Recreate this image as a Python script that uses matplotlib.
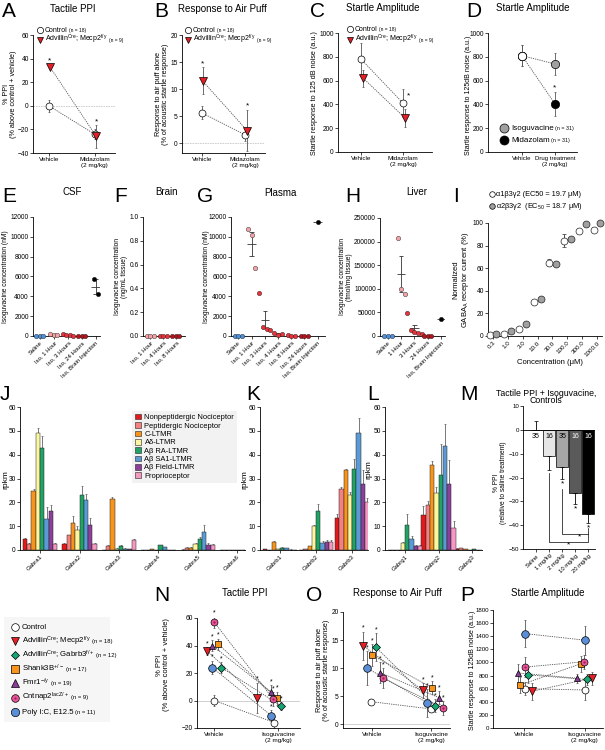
import numpy as np
import matplotlib
matplotlib.use('Agg')
import matplotlib.pyplot as plt
from matplotlib.patches import Patch, Rectangle
from matplotlib.lines import Line2D

plt.rcParams['font.family'] = ['Liberation Sans', 'DejaVu Sans']
plt.rcParams['mathtext.default'] = 'regular'

# ---------------- data ----------------
dose_labels = ['Vehicle', 'Midazolam\n(2 mg/kg)']
# A tactile PPI
ppi_ctrl = [0, -24]
ppi_ctrl_err = [5, 4]
ppi_mecp2 = [33, -26]
ppi_mecp2_err = [2, 10]
# B response to air puff
puff_ctrl = [5.6, 1.5]
puff_ctrl_err = [1.2, 1.2]
puff_mecp2 = [11.5, 2.3]
puff_mecp2_err = [2.5, 3.8]
# C startle amplitude
startle_ctrl = [780, 410]
startle_ctrl_err = [140, 120]
startle_mecp2 = [620, 285]
startle_mecp2_err = [70, 75]
# D
d_labels = ['Vehicle', 'Drug treatment\n(2 mg/kg)']
d_vehicle = 810
d_vehicle_err = 85
d_iso = 740
d_iso_err = 90
d_mid = 405
d_mid_err = 100

# E-H isoguvacine concentrations
csf_labels = ['Saline', 'Iso, 1 Hour', 'Iso, 3 Hours', 'Iso, 24 Hours', 'Iso, Brain Injection']
csf_vals = [[0, 0, 0], [210, 150, 90], [160, 110, 60, 20], [0, 0, 0], [5700, 4200]]
brain_labels = ['Iso, 1 Hour', 'Iso, 4 Hours', 'Iso, 8 Hours']
brain_vals = [[0, 0, 0], [0, 0, 0], [0, 0, 0]]
plasma_labels = ['Saline', 'Iso, 1 Hour', 'Iso, 3 Hours', 'Iso, 4 Hours',
                 'Iso, 8 Hours', 'Iso, 24 Hours', 'Iso, Brain Injection']
plasma_vals = [[0, 0, 0], [10800, 10200, 6900], [4300, 950, 750, 650],
               [300, 150, 220], [120, 40, 0], [0, 0, 0], [11500]]
liver_labels = ['Saline', '1 Hour', '3 Hours', '24 Hours', 'Iso, Brain Injection']
liver_vals = [[0, 0, 0], [207000, 100000, 88000], [48000, 12000, 9000, 7000, 5000],
              [0, 0, 0], [36000]]

# I dose response
conc_labels = ['0.3', '1.0', '3.0', '10.0', '30.0', '100.0', '300.0', '1000.0']
a1_vals = [1, 2, 6.5, 30.5, 65, 84.5, 92.5, 93.5]
a1_err = [0.5, 0.5, 0.8, 1, 3, 6, 1, 1.5]
a2_vals = [1.5, 4.5, 10.5, 33, 63.5, 86, 99, 100]
a2_err = [0.5, 0.5, 1, 1, 1.5, 1.5, 1, 1]

# J-L rpkm
cell_types = ['Nonpeptidergic Nociceptor', 'Peptidergic Nociceptor', 'C-LTMR', 'A\u03b4-LTMR',
              'A\u03b2 RA-LTMR', 'A\u03b2 SA1-LTMR', 'A\u03b2 Field-LTMR', 'Proprioceptor']
gabra_genes = ['Gabra1', 'Gabra2', 'Gabra3', 'Gabra4', 'Gabra5', 'Gabra6']
gabra_vals = [[4.7, 2.5, 24.8, 49, 43, 13, 16.5, 2.5],
              [2.5, 6.2, 11.5, 8.2, 23, 21, 10.5, 2.5],
              [0.1, 1.8, 21.3, 0.5, 1.5, 0.5, 0.3, 4.0],
              [0, 0, 0.3, 0, 2, 1.2, 0.1, 0],
              [0.2, 1, 1, 2.5, 4.5, 7.5, 2.3, 2.2],
              [0, 0, 0, 0, 0, 0, 0, 0]]
gabra_err = [[0.5, 0.5, 1, 2, 5, 5, 2.5, 0.5],
             [0.5, 0.3, 2.8, 1.8, 4, 2.5, 3, 0.5],
             [0, 0.3, 1, 0.2, 0.5, 0.2, 0.1, 0.5],
             [0, 0, 0, 0, 0.3, 0.2, 0, 0],
             [0.1, 0.2, 0.2, 0.5, 1, 3, 0.5, 0.5],
             [0, 0, 0, 0, 0, 0, 0, 0]]
gabrb_genes = ['Gabrb1', 'Gabrb2', 'Gabrb3']
gabrb_vals = [[0.3, 0, 3.3, 0.5, 1, 0.8, 0.2, 0],
              [0.2, 0.5, 1.5, 10, 16.5, 3, 3.2, 3.5],
              [13.5, 25.5, 33.5, 23, 34, 49, 27.5, 20]]
gabrb_err = [[0.1, 0, 0.4, 0.1, 0.2, 0.2, 0.1, 0],
             [0, 0.1, 0.3, 0.5, 2.8, 0.8, 1, 0.5],
             [1.5, 1, 0.3, 1.5, 4, 6.5, 6, 2]]
gabrg_genes = ['Gabrg1', 'Gabrg2', 'Gabrg3']
gabrg_vals = [[0.2, 0.2, 0, 2.8, 10.5, 4.5, 1.5, 1.5],
              [14.8, 19, 35.5, 24, 31.5, 43.8, 27.6, 9.3],
              [0.5, 0.8, 0.5, 0.2, 0.3, 0.2, 0.1, 0.1]]
gabrg_err = [[0, 0, 0, 0.5, 4.5, 1.2, 0.5, 0.5],
             [3.5, 1.5, 2, 2.5, 13, 9, 10, 3],
             [0.2, 0.2, 0.1, 0, 0, 0, 0, 0]]

# M
m_labels = ['Saline', '1 mg/kg', '2 mg/kg', '10 mg/kg', '20 mg/kg']
m_vals = [0, -11, -15.5, -26.5, -35.2]
m_err = [3.8, 6, 5, 4.5, 3.7]
m_n = [35, 16, 35, 16, 16]

# N-P
model_names = ['Control', 'Advillin$^{Cre}$; Mecp2$^{f/y}$', 'Advillin$^{Cre}$; Gabrb3$^{f/+}$',
               'Shank3B$^{+/-}$', 'Fmr1$^{-/y}$', 'Cntnap2$^{lacZ/+}$', 'Poly I:C, E12.5']
model_n = ['', '(n = 18)', '(n = 12)', '(n = 17)', '(n = 19)', '(n = 9)', '(n = 11)']
iso_labels = ['Vehicle', 'Isoguvacine\n(2 mg/kg)']
n_veh = [0, 36, 24, 41, 40, 57, 24]
n_veh_err = [4, 3, 4, 4, 4, 4, 5]
n_iso = [-16, 2, -4, 1.5, 6, 1, -11]
n_iso_err = [4, 11, 3, 5, 5, 5, 4]
o_veh = [4, 14, 13.7, 12.3, 9.2, 8.2, 10]
o_veh_err = [0.5, 2.5, 2.5, 2, 1.8, 1.8, 3]
o_iso = [2.7, 6, 3.3, 6.5, 4.7, 2.9, 3.8]
o_iso_err = [0.5, 1.3, 1.2, 1.2, 1.2, 1.2, 2.5]
p_veh = [600, 560, 810, 655, 840, 930, 1440]
p_veh_err = [100, 130, 120, 120, 140, 150, 200]
p_iso = [580, 760, 740, 980, 760, 1010, 1340]
p_iso_err = [150, 100, 90, 120, 70, 110, 220]

# ---------------- style ----------------
RED = '#e41f26'
GREEN = '#17a673'
ORANGE = '#f7941d'
PURPLE = '#8a3c97'
PINK = '#e8559a'
BLUE = '#5a8fd8'
LN = '#555555'
cell_colors = ['#e31a1c', '#f4807f', '#f7941d', '#fbf7a0', '#21a366', '#5b9bd5', '#8e3f9a', '#f49ac1']
model_colors = ['white', RED, GREEN, ORANGE, PURPLE, PINK, BLUE]
model_markers = ['o', 'v', 'D', 's', '^', 'o', 'o']
model_ms = [5, 5.5, 3.8, 5, 5, 5, 5.5]
C_SAL, C_1H, C_3H, C_24H = '#4f8fd6', '#f2a1a6', '#e5323b', '#b3141c'

W, H = 605, 750
fig = plt.figure(figsize=(W / 100, H / 100), dpi=100)
renderer = fig.canvas.get_renderer()


def pax(l, t, r, b, xlim, ylim):
    ax = fig.add_axes([l / W, 1 - b / H, (r - l) / W, (b - t) / H])
    ax.set_xlim(*xlim)
    ax.set_ylim(*ylim)
    for s in ('top', 'right'):
        ax.spines[s].set_visible(False)
    for s in ('left', 'bottom'):
        ax.spines[s].set_linewidth(0.6)
    ax.tick_params(labelsize=4.8, width=0.5, length=2, pad=1)
    ax.patch.set_visible(False)
    return ax


def ptext(x, y, s, size=5, **kw):
    kw.setdefault('ha', 'center')
    kw.setdefault('va', 'center')
    return fig.text(x / W, 1 - y / H, s, fontsize=size, **kw)


def letter(x, y, s):
    ptext(x, y, s, size=15, ha='left', va='top')


def ylab(x, y, s, size=5.2):
    ptext(x, y, s, size=size, rotation=90, linespacing=1.1)


def key(x, y, marker, fc, ms, parts, ec='black', gap=5):
    fig.add_artist(Line2D([x / W], [1 - y / H], marker=marker, ms=ms, mfc=fc, mec=ec, mew=0.5,
                          ls='none', transform=fig.transFigure))
    tx = x + gap
    for s, size in parts:
        t = fig.text(tx / W, 1 - (y + 2) / H, s, fontsize=size, ha='left', va='baseline')
        tx += t.get_window_extent(renderer).width + 1.5


def pair(ax, xs, ys, errs, marker, fc, ms, ec='black'):
    ax.plot(xs, ys, ls=(0, (1.5, 1.2)), color=LN, lw=0.6, zorder=1)
    ax.errorbar(xs, ys, yerr=errs, fmt='none', ecolor=LN, elinewidth=0.6, capsize=1, capthick=0.5, zorder=2)
    ax.plot(xs, ys, ls='none', marker=marker, ms=ms, mfc=fc, mec=ec, mew=0.5, zorder=3, clip_on=False)


def star(ax, x, y, size=6):
    ax.text(x, y, '*', ha='center', va='center', fontsize=size)


def rot_ticks(ax, labels, size=4.3):
    ax.set_xticks(range(len(labels)))
    ax.set_xticklabels(labels, rotation=45, ha='right', rotation_mode='anchor', fontsize=size)


# ---------------- A ----------------
letter(2, 2, 'A')
ptext(73, 9, 'Tactile PPI', 7)
ax = pax(33, 35, 115, 153, (-0.35, 1.45), (-40, 60))
ax.set_yticks(range(-40, 61, 20))
ax.set_xticks([0, 1])
ax.set_xticklabels(dose_labels, fontsize=4.6)
ax.axhline(0, color='#c8c8c8', lw=0.6, ls=(0, (2, 1)), zorder=0)
pair(ax, [0, 1], ppi_ctrl, ppi_ctrl_err, 'o', 'white', 5)
pair(ax, [0.02, 1.04], ppi_mecp2, ppi_mecp2_err, 'v', RED, 5.5)
star(ax, 0.02, 38)
star(ax, 1.04, -14)
ylab(10, 94, '% PPI\n(% above control + vehicle)')
key(40, 30, 'o', 'white', 4.5, [('Control', 5), ('(n = 18)', 3.5)])
key(40, 40, 'v', RED, 5, [('Advillin$^{Cre}$; Mecp2$^{f/y}$', 5), ('(n = 9)', 3.5)])

# ---------------- B ----------------
letter(154, 2, 'B')
ptext(222, 9, 'Response to Air Puff', 7)
ax = pax(182, 35, 265, 153, (-0.45, 1.45), (-1.85, 20))
ax.set_yticks(range(0, 21, 5))
ax.set_xticks([0, 1])
ax.set_xticklabels(dose_labels, fontsize=4.6)
ax.axhline(0, color='#c8c8c8', lw=0.6, ls=(0, (2, 1)), zorder=0)
pair(ax, [0, 1], puff_ctrl, puff_ctrl_err, 'o', 'white', 5)
pair(ax, [0.02, 1.04], puff_mecp2, puff_mecp2_err, 'v', RED, 5.5)
star(ax, 0.02, 14.6)
star(ax, 1.04, 6.8)
ylab(162, 94, 'Response to air puff alone\n(% of acoustic startle response)')
key(188, 30, 'o', 'white', 4.5, [('Control', 5), ('(n = 18)', 3.5)])
key(188, 40, 'v', RED, 5, [('Advillin$^{Cre}$; Mecp2$^{f/y}$', 5), ('(n = 9)', 3.5)])

# ---------------- C ----------------
letter(310, 2, 'C')
ptext(383, 8, 'Startle Amplitude', 7)
ax = pax(338, 33, 432, 152, (-0.55, 1.69), (0, 1000))
ax.set_yticks(range(0, 1001, 200))
ax.set_xticks([0, 1])
ax.set_xticklabels(dose_labels, fontsize=4.6)
pair(ax, [0, 1], startle_ctrl, startle_ctrl_err, 'o', 'white', 5)
pair(ax, [0.05, 1.05], startle_mecp2, startle_mecp2_err, 'v', RED, 5.5)
star(ax, 1.12, 470)
ylab(315, 93, 'Startle response to 125 dB noise (a.u.)')
key(350, 29, 'o', 'white', 4.5, [('Control', 5), ('(n = 18)', 3.5)])
key(350, 40, 'v', RED, 5, [('Advillin$^{Cre}$; Mecp2$^{f/y}$', 5), ('(n = 9)', 3.5)])

# ---------------- D ----------------
letter(466, 2, 'D')
ptext(533, 8, 'Startle Amplitude', 7)
ax = pax(488, 33, 577, 152, (-1.03, 1.67), (0, 1000))
ax.set_yticks(range(0, 1001, 200))
ax.set_xticks([0, 1])
ax.set_xticklabels(d_labels, fontsize=4.3)
pair(ax, [0, 1], [d_vehicle, d_iso], [d_vehicle_err, d_iso_err], 'o', '#a0a0a0', 6)
pair(ax, [0, 1], [d_vehicle, d_mid], [d_vehicle_err, d_mid_err], 'o', 'black', 6)
ax.plot([0], [d_vehicle], 'o', ms=6, mfc='white', mec='black', mew=0.5, zorder=4)
star(ax, 1, d_mid + d_mid_err + 35)
ylab(469, 95, 'Startle response to 125dB noise (a.u.)', 5.0)
key(504, 128, 'o', '#a0a0a0', 6.5, [('Isoguvacine', 5.8), ('(n = 31)', 3.8)], gap=7)
key(504, 140, 'o', 'black', 6.5, [('Midazolam', 5.8), ('(n = 31)', 3.8)], gap=7)


# ---------------- E-H ----------------
def dots(ax, groups, colors, step):
    for i, (vals, c) in enumerate(zip(groups, colors)):
        vals = np.asarray(vals, float)
        n = len(vals)
        offs = (np.arange(n) - (n - 1) / 2) * step
        m = vals.mean()
        ax.hlines(m, i - 0.32, i + 0.32, color='#333333', lw=0.6, zorder=2)
        if n > 1:
            s = vals.std(ddof=1) / np.sqrt(n)
            if s > 0:
                ax.vlines(i, m - s, m + s, color='#333333', lw=0.6, zorder=2)
                ax.hlines([m - s, m + s], i - 0.17, i + 0.17, color='#333333', lw=0.6, zorder=2)
        ax.plot(i + offs, vals, 'o', ms=3.2, mfc=c, mec='#222222', mew=0.3, zorder=3, clip_on=False)


letter(2, 187, 'E')
ptext(72, 192, 'CSF', 7)
ax = pax(33, 217, 100, 336, (-0.5, 4.3), (0, 12000))
ax.set_yticks(range(0, 12001, 2000))
rot_ticks(ax, csf_labels)
dots(ax, csf_vals, [C_SAL, C_1H, C_3H, C_24H, 'black'], 0.25)
ylab(6, 277, 'Isoguvacine concentration (nM)', 4.8)

letter(114, 187, 'F')
ptext(167, 192, 'Brain', 7)
ax = pax(143, 217, 185, 336, (-0.55, 2.7), (0, 1.0))
ax.set_yticks(np.arange(0, 1.01, 0.2))
ax.yaxis.set_major_formatter(matplotlib.ticker.FormatStrFormatter('%.1f'))
rot_ticks(ax, brain_labels)
dots(ax, brain_vals, [C_1H, C_3H, C_24H], 0.27)
ylab(121, 277, 'Isoguvacine concentration\n(ng/mL tissue)', 4.8)

letter(197, 187, 'G')
ptext(280, 193, 'Plasma', 7)
ax = pax(231, 217, 325, 336, (-0.55, 6.55), (0, 12000))
ax.set_yticks(range(0, 12001, 2000))
rot_ticks(ax, plasma_labels)
dots(ax, plasma_vals, [C_SAL, C_1H, C_3H, C_3H, C_3H, C_24H, 'black'], 0.27)
ylab(207, 277, 'Isoguvacine concentration (nM)', 4.8)

letter(345, 187, 'H')
ptext(417, 192, 'Liver', 7)
ax = pax(380, 218, 445, 336, (-0.6, 4.3), (0, 250000))
ax.set_yticks(range(0, 250001, 50000))
rot_ticks(ax, liver_labels)
dots(ax, liver_vals, [C_SAL, C_1H, C_3H, C_24H, 'black'], 0.27)
ylab(346, 277, 'Isoguvacine concentration\n(fmol/mg tissue)', 4.8)

# ---------------- I ----------------
letter(453, 187, 'I')
ax = pax(488, 223, 602, 336, (-0.34, 7.34), (0, 100))
ax.set_yticks(range(0, 101, 20))
rot_ticks(ax, conc_labels, 4.5)
xi = np.arange(len(conc_labels))
ax.errorbar(xi - 0.23, a1_vals, yerr=a1_err, fmt='none', ecolor='#333333', elinewidth=0.6, capsize=1.2, capthick=0.5)
ax.errorbar(xi + 0.23, a2_vals, yerr=a2_err, fmt='none', ecolor='#333333', elinewidth=0.6, capsize=1.2, capthick=0.5)
ax.plot(xi - 0.23, a1_vals, 'o', ms=5, mfc='white', mec='#222222', mew=0.5, clip_on=False, zorder=3)
ax.plot(xi + 0.23, a2_vals, 'o', ms=5, mfc='#a0a0a0', mec='#222222', mew=0.5, clip_on=False, zorder=3)
ylab(462, 280, 'Normalized\nGABA$_A$ receptor current (%)', 5.5)
ptext(550, 363, 'Concentration (\u03bcM)', 5.5)
key(492, 194, 'o', 'white', 4, [('\u03b11\u03b23\u03b32 (EC50 = 19.7 \u03bcM)', 5.3)], gap=4)
key(492, 206, 'o', '#a0a0a0', 4, [('\u03b12\u03b23\u03b32  (EC$_{50}$ = 18.7 \u03bcM)', 5.3)], gap=4)


# ---------------- J-L ----------------
def gene_bars(ax, vals, errs, ppu):
    vals = np.asarray(vals, float)
    errs = np.asarray(errs, float)
    w = 4.3 / ppu
    xg = np.arange(len(vals))
    for i in range(len(cell_types)):
        xs = xg + (i - 3.5) * w
        ax.bar(xs, vals[:, i], w, color=cell_colors[i], edgecolor='#222222', lw=0.35, zorder=2)
        ax.errorbar(xs, vals[:, i], yerr=[np.zeros(len(xs)), errs[:, i]], fmt='none',
                    ecolor='#444444', elinewidth=0.5, capsize=0.8, capthick=0.4, zorder=1)
    ax.set_yticks(range(0, 61, 10))


letter(0, 385, 'J')
ax = pax(20, 407, 245, 550, (-0.51, 5.2), (0, 60))
gene_bars(ax, gabra_vals, gabra_err, 39.4)
rot_ticks(ax, gabra_genes, 4.3)
ylab(6, 480, 'rpkm', 6)
handles = [Patch(facecolor=c, edgecolor='#222222', lw=0.4) for c in cell_colors]
leg = ax.legend(handles, cell_types, loc='upper left', bbox_to_anchor=(0.48, 1.0), fontsize=5.4,
                handlelength=0.8, handleheight=0.8, handletextpad=0.5, labelspacing=0.12,
                borderpad=0.4, frameon=True, fancybox=False)
leg.get_frame().set_facecolor('#efefef')
leg.get_frame().set_edgecolor('none')

letter(246, 385, 'K')
ax = pax(260, 407, 368, 550, (-0.56, 2.44), (0, 60))
gene_bars(ax, gabrb_vals, gabrb_err, 36)
rot_ticks(ax, gabrb_genes, 4.3)
ylab(245, 480, 'rpkm', 6)

letter(367, 385, 'L')
ax = pax(385, 407, 482, 550, (-0.6, 2.3), (0, 60))
gene_bars(ax, gabrg_vals, gabrg_err, 33.5)
rot_ticks(ax, gabrg_genes, 4.3)
ylab(369, 470, 'rpkm', 6)

# ---------------- M ----------------
letter(460, 385, 'M')
ptext(546, 393, 'Tactile PPI + Isoguvacine,', 6.3)
ptext(546, 401, 'Controls', 6.3)
ax = pax(523, 406, 595, 549, (-1.0, 4.5), (-50, 10))
ax.set_yticks(range(-50, 11, 10))
ax.tick_params(axis='y', labelsize=4.4)
rot_ticks(ax, m_labels, 4.2)
xm = np.arange(len(m_labels))
m_colors = ['white', '#e6e6e6', '#a6a6a6', '#5a5a5a', '#000000']
ax.bar(xm, m_vals, 0.92, color=m_colors, edgecolor='black', lw=0.5, zorder=2)
lo = [0] + list(m_err[1:])
hi = [m_err[0]] + [0] * (len(m_err) - 1)
ax.errorbar(xm, m_vals, yerr=[lo, hi], fmt='none', ecolor='black', elinewidth=0.6, capsize=1.5, capthick=0.5, zorder=3)
ax.axhline(0, color='black', lw=0.6, zorder=4)
for i, n in enumerate(m_n):
    ax.text(xm[i], -2.8, str(n), ha='center', va='center', fontsize=5,
            color='white' if i >= 3 else 'black', zorder=5)
for i in (2, 3, 4):
    star(ax, xm[i], m_vals[i] - m_err[i] - 2.2)
ax.plot([2, 2, 4, 4], [m_vals[2] - m_err[2] - 4.5, -43.5, -43.5, -41], color='black', lw=0.5)
star(ax, 3.3, -44.8)
ax.plot([1, 1, 4, 4], [m_vals[1] - m_err[1] - 1, -47, -47, -43.5], color='black', lw=0.5)
star(ax, 2.5, -48.3)
ylab(500, 483, '% PPI\n(relative to saline treatment)', 4.8)

# ---------------- legend for N-P ----------------
fig.add_artist(Rectangle((4 / W, 1 - 722 / H), 106 / W, 105 / H, transform=fig.transFigure,
                         facecolor='#f6f6f6', edgecolor='none'))
ky = 627
for i in range(len(model_names)):
    parts = [(model_names[i], 5.6)]
    if model_n[i]:
        parts.append((model_n[i], 4.2))
    key(15, ky + i * 14.1, model_markers[i], model_colors[i], model_ms[i] + 0.5, parts, gap=7)
fig.add_artist(Line2D([15 / W], [1 - (ky + 5 * 14.1) / H], marker='o', ms=1.6, mfc='#9b1d55', mec='none',
                      ls='none', transform=fig.transFigure))


def model_panel(ax, veh, veh_err, iso, iso_err, dxv, dxi, ppu, stars):
    for i in range(len(model_names)):
        xs = [dxv[i] / ppu, 1 + dxi[i] / ppu]
        pair(ax, xs, [veh[i], iso[i]], [veh_err[i], iso_err[i]], model_markers[i],
             model_colors[i], model_ms[i])
        if i == 5:
            ax.plot(xs, [veh[i], iso[i]], 'o', ms=1.6, mfc='#9b1d55', mec='none', zorder=4)
        if stars and i > 0:
            star(ax, xs[0], veh[i] + veh_err[i] + stars, 5)
            star(ax, xs[1], iso[i] + iso_err[i] + stars, 5)


n_dx_veh = [0, -7, 7, 4, -2, 0, -2]
n_dx_iso = [-4, -21, 3, -1, -7, -5, -7]
o_dx_veh = [-1, -9, 4, 0, 8, 11, -5]
o_dx_iso = [0, -8, 4, 1, 8, 12, -4]
p_dx_veh = [1, 8, 4, -4, -6, 1, 1]
p_dx_iso = [0, 7, 2, -4, -8, -1, 0]

letter(154, 586, 'N')
ptext(245, 593, 'Tactile PPI', 7)
ax = pax(197, 618, 300, 728, (-0.27, 1.34), (-20, 60))
ax.set_yticks(range(-20, 61, 20))
ax.set_xticks([0, 1])
ax.set_xticklabels(iso_labels, fontsize=4.6)
ax.axhline(0, color='#d0d0d0', lw=0.7, zorder=0)
model_panel(ax, n_veh, n_veh_err, n_iso, n_iso_err, n_dx_veh, n_dx_iso, 64, 2.5)
ylab(163, 665, '% PPI\n(% above control + vehicle)', 5.5)

letter(306, 586, 'O')
ptext(397, 593, 'Response to Air Puff', 7)
ax = pax(343, 612, 450, 728, (-0.49, 1.32), (-0.7, 20))
ax.set_yticks(range(0, 21, 5))
ax.set_xticks([0, 1])
ax.set_xticklabels(iso_labels, fontsize=4.6)
ax.axhline(0, color='#d0d0d0', lw=0.7, zorder=0)
model_panel(ax, o_veh, o_veh_err, o_iso, o_iso_err, o_dx_veh, o_dx_iso, 59, 0.6)
ylab(323, 670, 'Response to air puff alone\n(% of acoustic startle response)', 5.2)

letter(460, 586, 'P')
ptext(548, 593, 'Startle Amplitude', 7)
ax = pax(493, 610, 603, 728, (-0.51, 1.3), (0, 1800))
ax.set_yticks(range(0, 1801, 200))
ax.tick_params(axis='y', labelsize=4.4)
ax.set_xticks([0, 1])
ax.set_xticklabels(iso_labels, fontsize=4.6)
model_panel(ax, p_veh, p_veh_err, p_iso, p_iso_err, p_dx_veh, p_dx_iso, 61, 0)
ylab(472, 670, 'Startle response to 125dB noise (a.u.)', 5.0)

fig.savefig('out.png', dpi=100)
